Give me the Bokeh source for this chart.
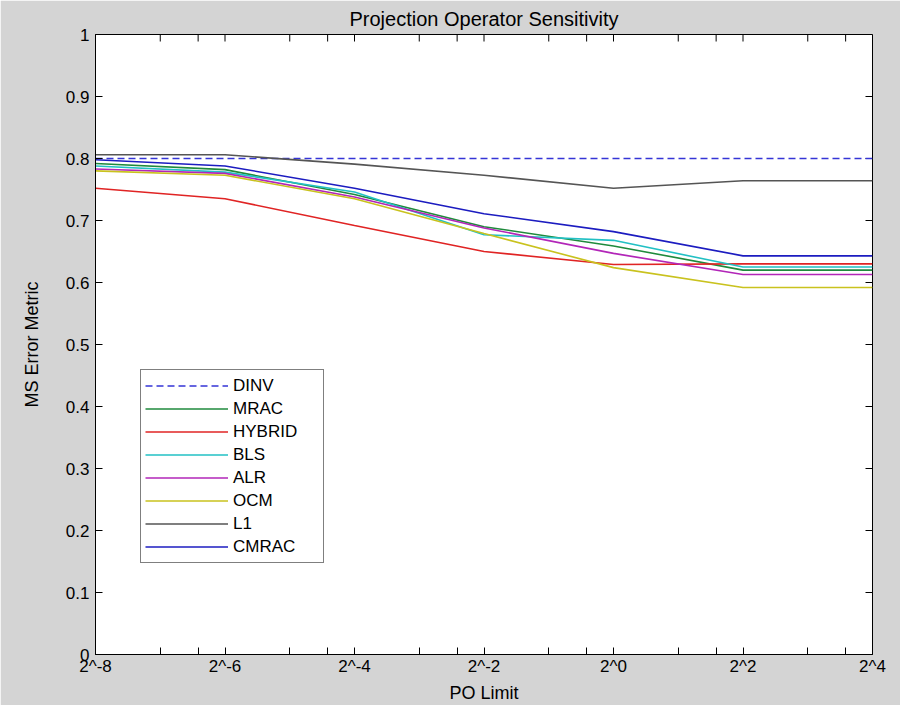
import math
from bokeh.plotting import figure
from bokeh.models import Range1d, FixedTicker, Legend, LegendItem
from bokeh.embed import file_html
from bokeh.resources import INLINE

# ---- data ----
title_text = "Projection Operator Sensitivity"
po_limit = [2**-8, 2**-6, 2**-4, 2**-2, 2**0, 2**2, 2**4]
x_tick_labels = ["2^-8", "2^-6", "2^-4", "2^-2", "2^0", "2^2", "2^4"]
y_ticks = [0, 0.1, 0.2, 0.3, 0.4, 0.5, 0.6, 0.7, 0.8, 0.9, 1]
y_tick_labels = ["0", "0.1", "0.2", "0.3", "0.4", "0.5", "0.6", "0.7", "0.8", "0.9", "1"]

dinv = [0.800, 0.800, 0.800, 0.800, 0.800, 0.800, 0.800]
mrac = [0.792, 0.782, 0.742, 0.690, 0.659, 0.620, 0.620]
hybrid = [0.752, 0.735, 0.692, 0.650, 0.629, 0.630, 0.630]
bls = [0.788, 0.778, 0.746, 0.677, 0.668, 0.625, 0.625]
alr = [0.783, 0.776, 0.738, 0.688, 0.647, 0.613, 0.613]
ocm = [0.780, 0.773, 0.735, 0.679, 0.624, 0.592, 0.592]
l1 = [0.806, 0.806, 0.791, 0.773, 0.752, 0.764, 0.764]
cmrac = [0.798, 0.788, 0.752, 0.711, 0.682, 0.643, 0.643]

series_names = ["DINV", "MRAC", "HYBRID", "BLS", "ALR", "OCM", "L1", "CMRAC"]
series_values = [dinv, mrac, hybrid, bls, alr, ocm, l1, cmrac]
series_colors = ["#3535d6", "#1f8a3c", "#e02424", "#22c0c4", "#b226b8", "#c9c21e", "#555555", "#1c1cc0"]
series_dash = ["7 4", "solid", "solid", "solid", "solid", "solid", "solid", "solid"]

# minor tick positions between the labelled powers of two (x2 and x3 of each)
x_minor = sorted([2 * v for v in po_limit[:-1]] + [3 * v for v in po_limit[:-1]])

GRAY = "#d4d4d4"
FONT = "Liberation Sans"
TICK = 7

x_lo, x_hi = po_limit[0], po_limit[-1]
y_lo, y_hi = y_ticks[0], y_ticks[-1]

p = figure(width=900, height=705, x_axis_type="log",
           x_range=Range1d(x_lo, x_hi), y_range=Range1d(y_lo, y_hi),
           output_backend="svg", toolbar_location=None,
           min_border_left=95, min_border_right=28, min_border_top=34, min_border_bottom=49)
p.background_fill_color = "white"
p.border_fill_color = GRAY
p.outline_line_color = "black"
p.outline_line_width = 1
p.grid.visible = False

p.title.text = title_text
p.title.align = "center"
p.title.text_font = FONT
p.title.text_font_size = "20px"
p.title.text_font_style = "normal"
p.title.text_color = "black"
p.title.standoff = 9

xt = FixedTicker(ticks=po_limit, minor_ticks=x_minor)
yt = FixedTicker(ticks=y_ticks)

def style_axis(ax):
    ax.axis_line_color = "black"
    ax.major_tick_line_color = "black"
    ax.minor_tick_line_color = "black"
    ax.major_tick_in = TICK
    ax.major_tick_out = 0
    ax.minor_tick_in = TICK
    ax.minor_tick_out = 0
    ax.major_label_text_font = FONT
    ax.major_label_text_font_size = "17px"
    ax.major_label_text_color = "black"
    ax.axis_label_text_font = FONT
    ax.axis_label_text_font_size = "18px"
    ax.axis_label_text_font_style = "normal"
    ax.axis_label_text_color = "black"

xa = p.xaxis[0]
xa.ticker = xt
xa.major_label_overrides = {v: lab for v, lab in zip(po_limit, x_tick_labels)}
xa.axis_label = "PO Limit"
style_axis(xa)
xa.major_label_standoff = 2
xa.axis_label_standoff = 4

ya = p.yaxis[0]
ya.ticker = yt
ya.major_label_overrides = {v: lab for v, lab in zip(y_ticks, y_tick_labels)}
ya.axis_label = "MS Error Metric"
style_axis(ya)
ya.minor_tick_in = 0
ya.major_label_standoff = 6
ya.axis_label_standoff = 21

# inward tick marks on the top and right edges of the box
all_x_ticks = po_limit + x_minor
p.ray(x=all_x_ticks, y=[y_hi] * len(all_x_ticks), length=TICK, length_units="screen",
      angle=-math.pi / 2, line_color="black", line_width=1)
p.ray(x=[x_hi] * len(y_ticks), y=y_ticks, length=TICK, length_units="screen",
      angle=math.pi, line_color="black", line_width=1)

items = []
for name, vals, col, dash in zip(series_names, series_values, series_colors, series_dash):
    r = p.line(po_limit, vals, line_color=col, line_width=1.6, line_dash=dash)
    items.append(LegendItem(label=name, renderers=[r]))

legend = Legend(items=items, location=(45, 91))
legend.background_fill_color = "white"
legend.background_fill_alpha = 1
legend.border_line_color = "black"
legend.border_line_width = 1
legend.padding = 4
legend.margin = 0
legend.spacing = 0
legend.glyph_width = 83
legend.glyph_height = 23
legend.label_height = 23
legend.label_width = 86
legend.label_standoff = 5
legend.label_text_font = FONT
legend.label_text_font_size = "17px"
legend.label_text_color = "black"
p.add_layout(legend, "center")

open("out.html", "w").write(file_html(p, INLINE))
